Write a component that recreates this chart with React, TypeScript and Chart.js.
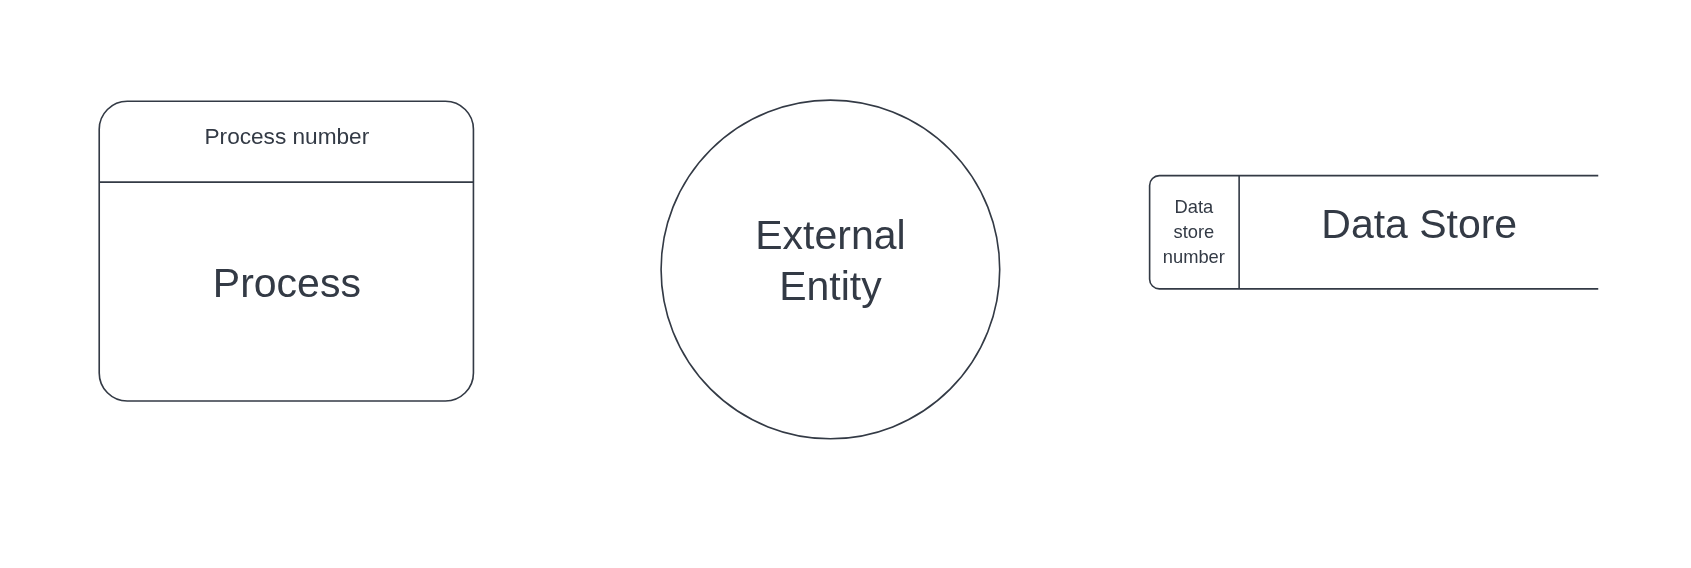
import React, { useEffect, useRef } from 'react';
import Chart, { ChartConfiguration, Plugin } from 'chart.js/auto';

// diagram coordinates, measured on a 1568-wide view of the reference
const shapeNames = ['Process', 'External Entity', 'Data Store'];
const processBox = [92, 94, 439, 372]; // x1, y1, x2, y2
const processDividerY = 169;
const entityCircle = [770, 250, 157]; // cx, cy, r
const storeBox = [1066, 163, 1482, 268];
const storeDividerX = 1149;

const labelTexts = ['Process number', 'Process', 'External', 'Entity', 'Data', 'store', 'number', 'Data Store'];
const labelX = [266, 266, 770, 770, 1107, 1107, 1107, 1316];
const labelY = [128, 265, 221, 268, 193, 216, 239, 210];
const labelSize = [21, 38, 38, 38, 17, 17, 17, 38];

const VIEW_W = 1568;
const VIEW_H = 527;
const INK = '#333a45';

const shapesPlugin: Plugin<'scatter'> = {
  id: 'dfdShapes',
  afterDraw(chart) {
    const { ctx } = chart;
    const xs = chart.scales.x;
    const ys = chart.scales.y;
    const px = (v: number) => xs.getPixelForValue(v);
    const py = (v: number) => ys.getPixelForValue(v);
    const k = px(1) - px(0);
    ctx.save();
    ctx.strokeStyle = INK;
    ctx.lineWidth = 1.5 * k;

    const [ax, ay, bx, by] = processBox;
    ctx.beginPath();
    ctx.roundRect(px(ax), py(ay), px(bx) - px(ax), py(by) - py(ay), 26 * k);
    ctx.stroke();
    ctx.beginPath();
    ctx.moveTo(px(ax), py(processDividerY));
    ctx.lineTo(px(bx), py(processDividerY));
    ctx.stroke();

    const [cx, cy, r] = entityCircle;
    ctx.beginPath();
    ctx.arc(px(cx), py(cy), px(cx + r) - px(cx), 0, Math.PI * 2);
    ctx.stroke();

    const [sx, sy, ex, ey] = storeBox;
    const rad = 9 * k;
    ctx.beginPath();
    ctx.moveTo(px(ex), py(sy));
    ctx.lineTo(px(sx) + rad, py(sy));
    ctx.arcTo(px(sx), py(sy), px(sx), py(sy) + rad, rad);
    ctx.lineTo(px(sx), py(ey) - rad);
    ctx.arcTo(px(sx), py(ey), px(sx) + rad, py(ey), rad);
    ctx.lineTo(px(ex), py(ey));
    ctx.stroke();
    ctx.beginPath();
    ctx.moveTo(px(storeDividerX), py(sy));
    ctx.lineTo(px(storeDividerX), py(ey));
    ctx.stroke();

    ctx.fillStyle = INK;
    ctx.textAlign = 'center';
    ctx.textBaseline = 'middle';
    labelTexts.forEach((t, i) => {
      ctx.font = `${labelSize[i] * k}px "Liberation Sans", Arial, sans-serif`;
      ctx.fillText(t, px(labelX[i]), py(labelY[i]));
    });
    ctx.restore();
  },
};

const App: React.FC = () => {
  const chartRef = useRef<Chart<'scatter'>>();
  const canvasRef = useRef<HTMLCanvasElement>(null);

  useEffect(() => {
    document.body.style.margin = '0';
    const canvas = canvasRef.current;
    if (!canvas) return;
    if (chartRef.current) chartRef.current.destroy();

    const config: ChartConfiguration<'scatter'> = {
      type: 'scatter',
      data: {
        datasets: [
          {
            label: shapeNames.join(', '),
            data: labelX.map((x, i) => ({ x, y: labelY[i] })),
            pointRadius: 0,
          },
        ],
      },
      options: {
        responsive: false,
        animation: false,
        layout: { padding: 0 },
        plugins: { legend: { display: false }, tooltip: { enabled: false } },
        scales: {
          x: { type: 'linear', min: 0, max: VIEW_W, display: false },
          y: { type: 'linear', min: 0, max: VIEW_H, reverse: true, display: false },
        },
      },
      plugins: [shapesPlugin],
    };

    chartRef.current = new Chart(canvas, config);
    return () => {
      if (chartRef.current) chartRef.current.destroy();
    };
  }, []);

  return (
    <div style={{ width: 1691, height: 568, background: '#fff' }}>
      <canvas ref={canvasRef} width="1691" height="568"></canvas>
    </div>
  );
};

export default App;
